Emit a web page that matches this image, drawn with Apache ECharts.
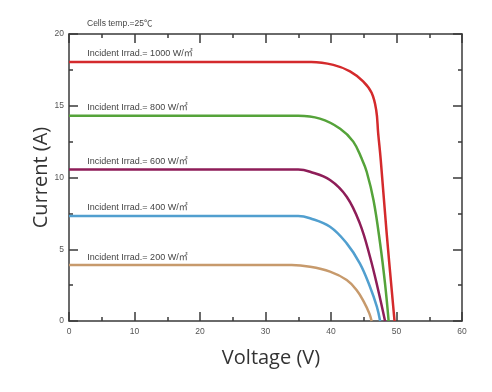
<!DOCTYPE html>
<html><head><meta charset="utf-8">
<script src="https://cdn.jsdelivr.net/npm/echarts@6/dist/echarts.min.js"></script>
<style>html,body{margin:0;padding:0;background:#fff}#c{width:492px;height:392px}</style>
</head><body><div id="c"></div>
<script>
const xTicks = [0, 10, 20, 30, 40, 50, 60];
const yTicks = [0, 5, 10, 15, 20];
const irradiance = [1000, 800, 600, 400, 200];
const colors = ['#d42a2c', '#55a33a', '#8e1d58', '#519fcf', '#c79a6c'];
const v1000 = [0, 37, 40.35, 42.9, 44.9, 46.2, 46.9, 47.2, 47.6, 48.5, 49.7];
const i1000 = [18.05, 18.05, 17.85, 17.4, 16.7, 15.9, 14.7, 13.1, 11.2, 6.1, 0];
const v800 = [0, 35, 38.3, 41.4, 43.4, 44.7, 45.45, 46.5, 47.5, 48.25, 48.8];
const i800 = [14.3, 14.3, 14.1, 13.4, 12.5, 11.3, 10.4, 8.4, 5.4, 2.6, 0];
const v600 = [0, 35, 36.8, 39.85, 42.4, 44.4, 45.95, 47.2, 48.25];
const i600 = [10.55, 10.55, 10.4, 9.83, 8.66, 6.8, 4.48, 2.16, 0];
const v400 = [0, 35, 36.8, 39.85, 42.4, 44.4, 45.95, 47.0, 47.5];
const i400 = [7.32, 7.32, 7.16, 6.57, 5.41, 4.02, 2.39, 1.0, 0];
const v200 = [0, 34, 36.8, 39.85, 42.4, 43.9, 45.0, 45.85, 46.2];
const i200 = [3.9, 3.9, 3.78, 3.44, 2.86, 2.16, 1.35, 0.53, 0];
const labelV = 2.8;
const tempText = 'Cells temp.=25℃';

const curves = [[v1000, i1000], [v800, i800], [v600, i600], [v400, i400], [v200, i200]];
const zip = (a, b) => a.map((v, k) => [v, b[k]]);
const lblFont = '"Liberation Sans", "Noto Sans CJK JP", sans-serif';
const axisCol = '#3a3a3a';
const xMin = xTicks[0], xMax = xTicks[xTicks.length - 1];
const yMin = yTicks[0], yMax = yTicks[yTicks.length - 1];

function axis(min, max, interval, position, len, showLine, extra) {
  return Object.assign({
    type: 'value', min: min, max: max, interval: interval, position: position,
    axisLine: {show: showLine, onZero: false, lineStyle: {color: axisCol, width: 1.5}},
    axisTick: {show: true, inside: true, length: len, lineStyle: {color: axisCol, width: 1.5}},
    axisLabel: {show: false},
    splitLine: {show: false}
  }, extra || {});
}
const nameStyle = {fontSize: 20, color: '#333', fontFamily: '"Open Sans", sans-serif'};
const tickLabel = {show: true, fontSize: 8.5, color: '#555', fontFamily: lblFont};

const chart = echarts.init(document.getElementById('c'), null, {renderer: 'canvas'});
chart.setOption({
  animation: false,
  backgroundColor: '#fff',
  title: {text: tempText, left: 82, top: 14, textStyle: {fontSize: 8.5, fontWeight: 'normal', color: '#444', fontFamily: lblFont}},
  grid: {left: 69, right: 30, top: 34, bottom: 71},
  xAxis: [
    axis(xMin, xMax, 10, 'bottom', 9, true, {name: 'Voltage (V)', nameLocation: 'middle', nameGap: 27, nameMoveOverlap: false,
      nameTextStyle: Object.assign({padding: [0, 0, 0, 11]}, nameStyle), axisLabel: Object.assign({margin: 6}, tickLabel)}),
    axis(xMin, xMax, 10, 'top', 9, true),
    axis(xMin, xMax, 5, 'bottom', 4, false),
    axis(xMin, xMax, 5, 'top', 4, false)
  ],
  yAxis: [
    axis(yMin, yMax, 5, 'left', 9, true, {name: 'Current (A)', nameLocation: 'middle', nameGap: 18, nameRotate: 90, nameMoveOverlap: false,
      nameTextStyle: nameStyle, axisLabel: Object.assign({margin: 5}, tickLabel)}),
    axis(yMin, yMax, 5, 'right', 9, true),
    axis(yMin, yMax, 2.5, 'left', 4, false),
    axis(yMin, yMax, 2.5, 'right', 4, false)
  ],
  series: curves.map((c, k) => ({
    type: 'line',
    data: zip(c[0], c[1]),
    showSymbol: false,
    smooth: 0.4,
    lineStyle: {color: colors[k], width: 2.5},
    itemStyle: {color: colors[k]},
    markPoint: {
      symbol: 'circle', symbolSize: 0,
      data: [{coord: [labelV, c[1][0]]}],
      label: {show: true, position: 'inside', align: 'left', verticalAlign: 'middle', offset: [0, -8],
        formatter: 'Incident Irrad.= ' + irradiance[k] + ' W/㎡',
        fontSize: 9, color: '#444', fontFamily: lblFont}
    }
  }))
});
</script></body></html>
